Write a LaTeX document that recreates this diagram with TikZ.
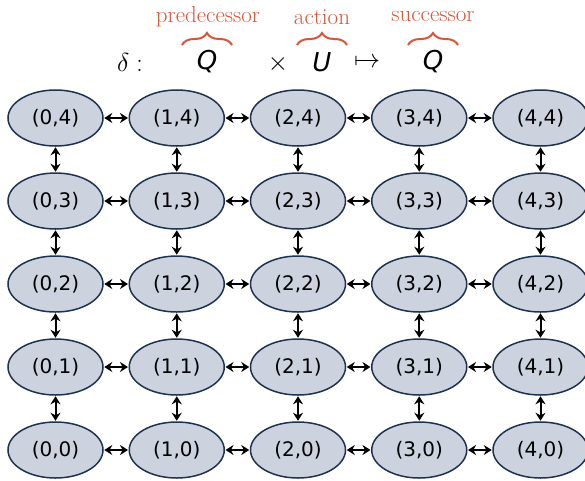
\RequirePackage{fix-cm}
\documentclass[tikz,border=0pt]{standalone}
\usepackage{fontspec}
\setsansfont{DejaVu Sans}
\usetikzlibrary{shapes.geometric,arrows.meta,decorations.pathreplacing,calc}
\definecolor{statefill}{HTML}{CDD3DE}
\definecolor{stateline}{HTML}{1E3250}
\definecolor{bracered}{HTML}{D9553A}
\begin{document}
\begin{tikzpicture}[x=1pt,y=-1pt,
  state/.style={ellipse,draw=stateline,fill=statefill,line width=1.5pt,
    minimum width=95pt,minimum height=56pt,inner sep=0pt,
    font=\sffamily\fontsize{20}{24}\selectfont},
  link/.style={{Stealth[length=8pt,width=10pt]}-{Stealth[length=8pt,width=10pt]},line width=2pt,shorten <=0.5pt,shorten >=0.5pt},
  mathpart/.style={inner sep=0pt,font=\fontsize{26}{30}\selectfont},
  bracelabel/.style={text=bracered,font=\fontsize{23}{26}\selectfont,inner sep=0pt},
  bracedeco/.style={draw=bracered,line width=2pt,decorate,decoration={brace,amplitude=12pt}}]
\useasboundingbox (0,0) rectangle (585,480);

% transition map header
\node[mathpart] (delta) at (130,62) {$\delta:$};
\node[mathpart] (q1) at (207,62) {\sffamily\itshape Q};
\node[mathpart] (times) at (278,64) {$\times$};
\node[mathpart] (u) at (322,62) {\sffamily\itshape U};
\node[mathpart] (mapsto) at (367,63) {$\mapsto$};
\node[mathpart] (q2) at (433,62) {\sffamily\itshape Q};

\coordinate (b1l) at (182,45); \coordinate (b1r) at (232,45);
\coordinate (b2l) at (297,45); \coordinate (b2r) at (347,45);
\coordinate (b3l) at (408,45); \coordinate (b3r) at (458,45);
\draw[bracedeco] (b1l) -- (b1r);
\draw[bracedeco] (b2l) -- (b2r);
\draw[bracedeco] (b3l) -- (b3r);
\node[bracelabel] (pred) at (208,17) {predecessor};
\node[bracelabel] (act) at (322,17) {action};
\node[bracelabel] (succ) at (433,17) {successor};

% grid of states
\foreach \i in {0,...,4} {
  \foreach \j in {0,...,4} {
    \node[state] (s\i\j) at ({55.5+121.25*\i},{450-83*\j}) {(\i,\j)};
  }
}
% horizontal links
\foreach \i [evaluate=\i as \n using int(\i+1)] in {0,...,3} {
  \foreach \j in {0,...,4} {
    \draw[link] (s\i\j) -- (s\n\j);
  }
}
% vertical links
\foreach \i in {0,...,4} {
  \foreach \j [evaluate=\j as \n using int(\j+1)] in {0,...,3} {
    \draw[link] (s\i\j) -- (s\i\n);
  }
}
\end{tikzpicture}
\end{document}
